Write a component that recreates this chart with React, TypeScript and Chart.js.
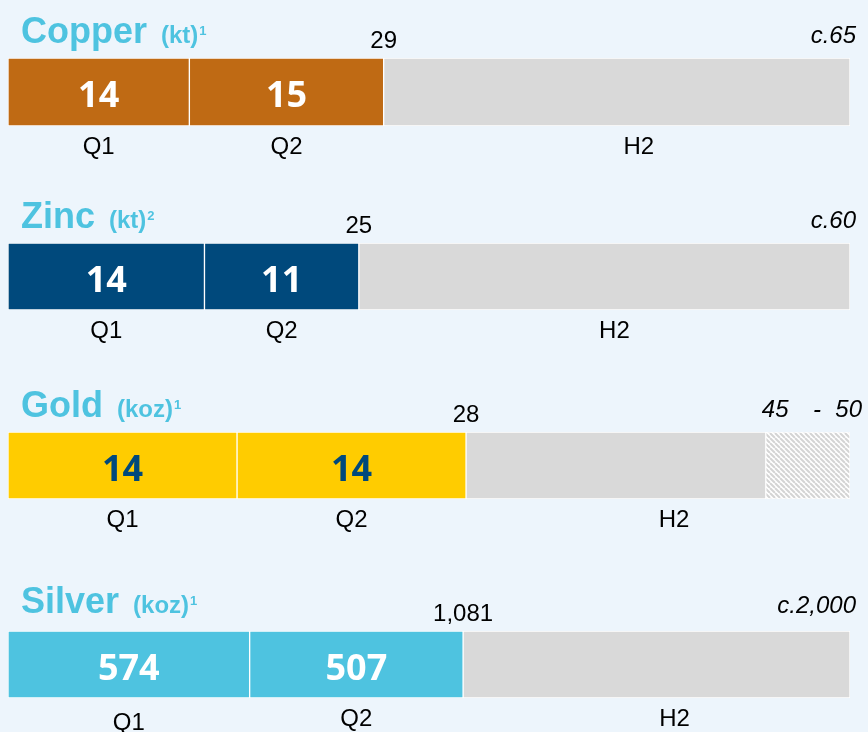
import React, { useEffect, useRef } from "react";
import { Chart, registerables } from "chart.js";

Chart.register(...registerables);

// ---------- data ----------
const periodLabels = ["Q1", "Q2", "H2"];

const copperValues = [14, 15, 36];
const copperValueLabels = ["14", "15"];
const copperTotal = "29";
const copperGuidance = ["c.65"];
const copperMax = 65;

const zincValues = [14, 11, 35];
const zincValueLabels = ["14", "11"];
const zincTotal = "25";
const zincGuidance = ["c.60"];
const zincMax = 60;

const goldValues = [13.6, 13.6, 17.8, 5];
const goldValueLabels = ["14", "14"];
const goldTotal = "28";
const goldGuidance = ["45", "-", "50"];
const goldMax = 50;

const silverValues = [574, 507, 919];
const silverValueLabels = ["574", "507"];
const silverTotal = "1,081";
const silverGuidance = ["c.2,000"];
const silverMax = 2000;

const metalNames = ["Copper", "Zinc", "Gold", "Silver"];
const metalUnits = ["(kt)", "(kt)", "(koz)", "(koz)"];
const metalNotes = ["1", "2", "1", "1"];

// ---------- styles ----------
const BG = "#EDF5FC";
const TITLE_COLOR = "#4EC3E0";
const GREY = "#D9D9D9";
const ARIAL = '"Liberation Sans", Arial, sans-serif';

function makeHatch(): CanvasPattern | string {
  const c = document.createElement("canvas");
  const s = 5;
  c.width = s;
  c.height = s;
  const g = c.getContext("2d");
  if (!g) return GREY;
  g.fillStyle = "#FFFFFF";
  g.fillRect(0, 0, s, s);
  g.strokeStyle = "#D4D4D4";
  g.lineWidth = 2;
  for (const k of [-s, 0, s]) {
    g.beginPath();
    g.moveTo(k, 0);
    g.lineTo(k + s, s);
    g.stroke();
  }
  const p = g.createPattern(c, "repeat");
  return p || GREY;
}

type PanelProps = {
  idx: number;
  values: number[];
  valueLabels: string[];
  total: string;
  guidance: string[];
  max: number;
  colors: (string | "hatch")[];
  valueColor: string;
  top: number;
  height: number;
  barTop: number;
  barBottom: number;
  lift: number;
  h2Shift: number;
  q1Drop: number;
};

function Panel(props: PanelProps) {
  const ref = useRef<HTMLCanvasElement | null>(null);
  useEffect(() => {
    const canvas = ref.current;
    if (!canvas) return;
    const hatch = makeHatch();
    const p = props;
    const datasets = p.values.map((v, i) => ({
      label: i < periodLabels.length ? periodLabels[i] : "range",
      data: [v],
      backgroundColor: p.colors[i] === "hatch" ? (hatch as any) : p.colors[i],
      borderColor: "#FFFFFF",
      borderWidth: 1,
      borderSkipped: false as any,
      barPercentage: 1,
      categoryPercentage: 1,
    }));

    const labelPlugin = {
      id: "panelLabels",
      afterDatasetsDraw(chart: any) {
        const ctx: CanvasRenderingContext2D = chart.ctx;
        const ca = chart.chartArea;
        const segs = chart.data.datasets.map((_: any, i: number) => {
          const el = chart.getDatasetMeta(i).data[0];
          const q = el.getProps(["x", "base"], true);
          return { l: Math.min(q.x, q.base), r: Math.max(q.x, q.base) };
        });
        const cy = (ca.top + ca.bottom) / 2;
        ctx.save();
        // title
        ctx.textAlign = "left";
        ctx.textBaseline = "alphabetic";
        ctx.fillStyle = TITLE_COLOR;
        const ty = ca.top - p.lift;
        ctx.font = `bold 36px ${ARIAL}`;
        const name = metalNames[p.idx];
        ctx.fillText(name, 21, ty);
        let x = 21 + ctx.measureText(name).width + 14;
        ctx.font = `bold 24px ${ARIAL}`;
        const unit = metalUnits[p.idx];
        ctx.fillText(unit, x, ty);
        x += ctx.measureText(unit).width + 1;
        ctx.font = `bold 13px ${ARIAL}`;
        ctx.fillText(metalNotes[p.idx], x, ty - 8);

        // values in bars
        ctx.textAlign = "center";
        ctx.font = `bold 36px "Open Sans", ${ARIAL}`;
        ctx.fillStyle = p.valueColor;
        p.valueLabels.forEach((t, i) => {
          ctx.fillText(t, (segs[i].l + segs[i].r) / 2, cy + 15);
        });

        // total above end of Q2
        ctx.fillStyle = "#000000";
        ctx.font = `24px ${ARIAL}`;
        ctx.fillText(p.total, segs[1].r, ca.top - 10);

        // guidance
        ctx.font = `italic 24px ${ARIAL}`;
        if (p.guidance.length === 1) {
          ctx.textAlign = "right";
          ctx.fillText(p.guidance[0], ca.right + 6, ca.top - p.lift);
        } else {
          const lowX = segs[2].r;
          ctx.textAlign = "left";
          ctx.fillText(p.guidance[0], lowX - 4, ca.top - p.lift);
          ctx.textAlign = "center";
          ctx.fillText(p.guidance[1], (lowX + ca.right) / 2 + 9, ca.top - p.lift);
          ctx.textAlign = "right";
          ctx.fillText(p.guidance[2], ca.right + 12, ca.top - p.lift);
        }

        // period labels
        ctx.textAlign = "center";
        ctx.font = `24px ${ARIAL}`;
        const by = ca.bottom + 28;
        ctx.fillText(periodLabels[0], (segs[0].l + segs[0].r) / 2, by + p.q1Drop);
        ctx.fillText(periodLabels[1], (segs[1].l + segs[1].r) / 2, by);
        const h2l = segs[2].l;
        const h2r = segs[segs.length - 1].r;
        ctx.fillText(periodLabels[2], (h2l + h2r) / 2 + p.h2Shift, by);
        ctx.restore();
      },
    };

    const chart = new Chart(canvas, {
      type: "bar",
      data: { labels: [""], datasets: datasets as any },
      options: {
        indexAxis: "y",
        animation: false,
        responsive: false,
        devicePixelRatio: 1,
        layout: {
          padding: {
            left: 8,
            right: 18,
            top: p.barTop - p.top,
            bottom: p.top + p.height - p.barBottom,
          },
        },
        plugins: {
          legend: { display: false },
          tooltip: { enabled: false },
          title: { display: false },
        },
        scales: {
          x: { stacked: true, min: 0, max: p.max, display: false },
          y: { stacked: true, display: false },
        },
      } as any,
      plugins: [labelPlugin as any],
    });
    return () => chart.destroy();
  }, []);
  return (
    <canvas
      ref={ref}
      width={868}
      height={props.height}
      style={{ position: "absolute", left: 0, top: props.top, width: 868, height: props.height }}
    />
  );
}

export default function App() {
  return (
    <div
      style={{
        position: "absolute",
        left: 0,
        top: 0,
        width: 868,
        height: 732,
        background: BG,
        overflow: "hidden",
      }}
    >
      <Panel
        idx={0}
        values={copperValues}
        valueLabels={copperValueLabels}
        total={copperTotal}
        guidance={copperGuidance}
        max={copperMax}
        colors={["#BF6A14", "#BF6A14", GREY]}
        valueColor="#FFFFFF"
        top={0}
        height={178}
        barTop={58}
        barBottom={126}
        lift={15}
        h2Shift={22}
        q1Drop={0}
      />
      <Panel
        idx={1}
        values={zincValues}
        valueLabels={zincValueLabels}
        total={zincTotal}
        guidance={zincGuidance}
        max={zincMax}
        colors={["#00497C", "#00497C", GREY]}
        valueColor="#FFFFFF"
        top={178}
        height={190}
        barTop={243}
        barBottom={310}
        lift={15}
        h2Shift={10}
        q1Drop={0}
      />
      <Panel
        idx={2}
        values={goldValues}
        valueLabels={goldValueLabels}
        total={goldTotal}
        guidance={goldGuidance}
        max={goldMax}
        colors={["#FFCC00", "#FFCC00", GREY, "hatch"]}
        valueColor="#00497C"
        top={368}
        height={177}
        barTop={432}
        barBottom={499}
        lift={15}
        h2Shift={16}
        q1Drop={0}
      />
      <Panel
        idx={3}
        values={silverValues}
        valueLabels={silverValueLabels}
        total={silverTotal}
        guidance={silverGuidance}
        max={silverMax}
        colors={["#4EC3E0", "#4EC3E0", GREY]}
        valueColor="#FFFFFF"
        top={545}
        height={187}
        barTop={631}
        barBottom={698}
        lift={18}
        h2Shift={18}
        q1Drop={4}
      />
    </div>
  );
}
